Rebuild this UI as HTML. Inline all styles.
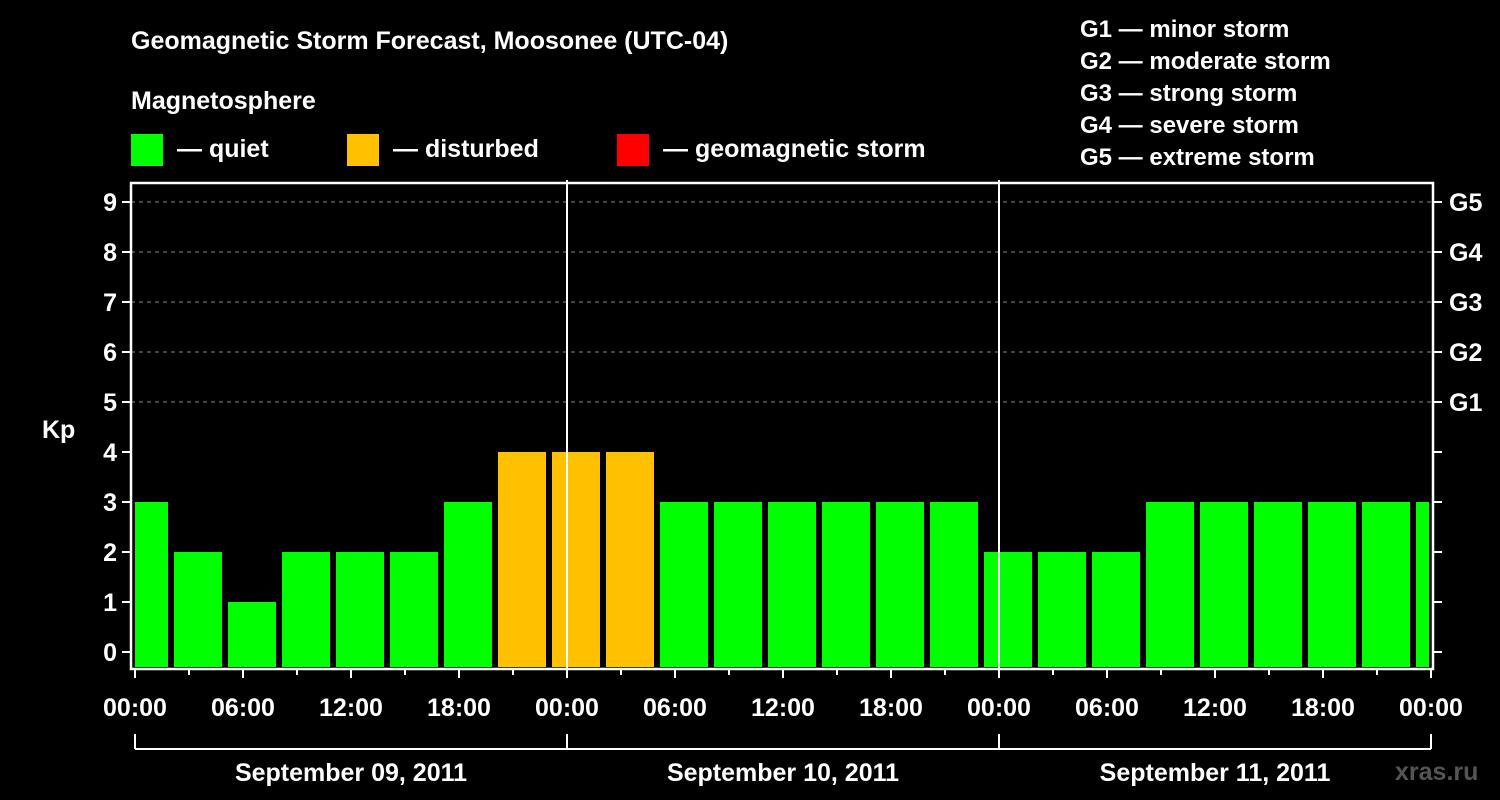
<!DOCTYPE html>
<html><head><meta charset="utf-8"><style>
html,body{margin:0;padding:0;background:#000;}
svg{display:block;font-family:"Liberation Sans",Arial,sans-serif;font-weight:bold;}
</style></head><body>
<svg id="chart" width="1500" height="800" viewBox="0 0 1500 800">
<text x="131" y="49" fill="#fff" font-size="25">Geomagnetic Storm Forecast, Moosonee (UTC-04)</text>
<text x="131" y="109" fill="#fff" font-size="25">Magnetosphere</text>
<g><rect x="131" y="134" width="32" height="32" fill="#00ff00"/><text x="177" y="157" fill="#fff" font-size="25">— quiet</text></g>
<g><rect x="347" y="134" width="32" height="32" fill="#ffc000"/><text x="393" y="157" fill="#fff" font-size="25">— disturbed</text></g>
<g><rect x="617" y="134" width="32" height="32" fill="#ff0000"/><text x="663" y="157" fill="#fff" font-size="25">— geomagnetic storm</text></g>
<g fill="#fff" font-size="24">
<text x="1080" y="37">G1 — minor storm</text>
<text x="1080" y="69">G2 — moderate storm</text>
<text x="1080" y="101">G3 — strong storm</text>
<text x="1080" y="133">G4 — severe storm</text>
<text x="1080" y="165">G5 — extreme storm</text>
</g>
<text x="42" y="438" fill="#fff" font-size="25">Kp</text>
<g id="grid"></g>
<g id="bars"></g>
<g id="axes"></g>
<text x="1395" y="780" fill="#555" font-size="25">xras.ru</text>
</svg>
<script>
const kpValues=[3,2,1,2,2,2,3,4,4,4,3,3,3,3,3,3,2,2,2,3,3,3,3,3,3];
const barStartHours=[-1,2,5,8,11,14,17,20,23,26,29,32,35,38,41,44,47,50,53,56,59,62,65,68,71];
const yTicks=[0,1,2,3,4,5,6,7,8,9];
const gLabels=["G1","G2","G3","G4","G5"];
const xTickLabels=["00:00","06:00","12:00","18:00","00:00","06:00","12:00","18:00","00:00","06:00","12:00","18:00","00:00"];
const dayLabels=["September 09, 2011","September 10, 2011","September 11, 2011"];
const NS="http://www.w3.org/2000/svg";
const X0=135,PXH=18,L=131,R=1433,T=183,B=669;
const xs=h=>X0+h*PXH;
const ys=v=>652-v*50;
function mk(tag,attrs,parent,txt){const e=document.createElementNS(NS,tag);for(const k in attrs)e.setAttribute(k,attrs[k]);if(txt!=null)e.textContent=txt;document.getElementById(parent).appendChild(e);return e;}
// grid
yTicks.forEach(v=>{if(v>=5){const e=mk('line',{x1:L,x2:R,y1:ys(v),y2:ys(v),stroke:'#888','stroke-dasharray':'4 4','stroke-width':1},'grid');

}});
// bars
kpValues.forEach((v,i)=>{let x1=xs(barStartHours[i])+3,x2=x1+48;x1=Math.max(x1,L+4);x2=Math.min(x2,R-4);
const c=v>=5?'#ff0000':(v>=4?'#ffc000':'#00ff00');
const e=mk('rect',{x:x1,y:ys(v),width:x2-x1,height:667-ys(v),fill:c},'bars');

});
// day separators
[24,48].forEach(h=>{const e=mk('line',{x1:xs(h),x2:xs(h),y1:180,y2:B,stroke:'#fff','stroke-width':2},'axes');

});
// frame
const f=mk('rect',{x:L,y:T,width:R-L,height:B-T,fill:'none',stroke:'#fff','stroke-width':2.5},'axes');


// y ticks
yTicks.forEach(v=>{mk('line',{x1:L-9,x2:L,y1:ys(v),y2:ys(v),stroke:'#fff','stroke-width':2},'axes');
mk('line',{x1:R,x2:R+9,y1:ys(v),y2:ys(v),stroke:'#fff','stroke-width':2},'axes');
const t=mk('text',{x:L-14,y:ys(v)+9,fill:'#fff','font-size':25,'text-anchor':'end'},'axes',String(v));

});
gLabels.forEach((g,i)=>{const t=mk('text',{x:R+16,y:ys(5+i)+9,fill:'#fff','font-size':25},'axes',g);

});
// x ticks
for(let h=0;h<=72;h+=3){const major=h%6===0;mk('line',{x1:xs(h),x2:xs(h),y1:B,y2:B+(major?9:6),stroke:'#fff','stroke-width':2},'axes');}
xTickLabels.forEach((lab,i)=>{const t=mk('text',{x:xs(i*6),y:716,fill:'#fff','font-size':25,'text-anchor':'middle'},'axes',lab);

});
// day bracket
mk('line',{x1:xs(0),x2:xs(72),y1:749,y2:749,stroke:'#fff','stroke-width':2},'axes');
[0,24,48,72].forEach(h=>mk('line',{x1:xs(h),x2:xs(h),y1:734,y2:749,stroke:'#fff','stroke-width':2},'axes'));
dayLabels.forEach((d,i)=>{const t=mk('text',{x:xs(i*24+12),y:781,fill:'#fff','font-size':25,'text-anchor':'middle'},'axes',d);

});
</script>
</body></html>
